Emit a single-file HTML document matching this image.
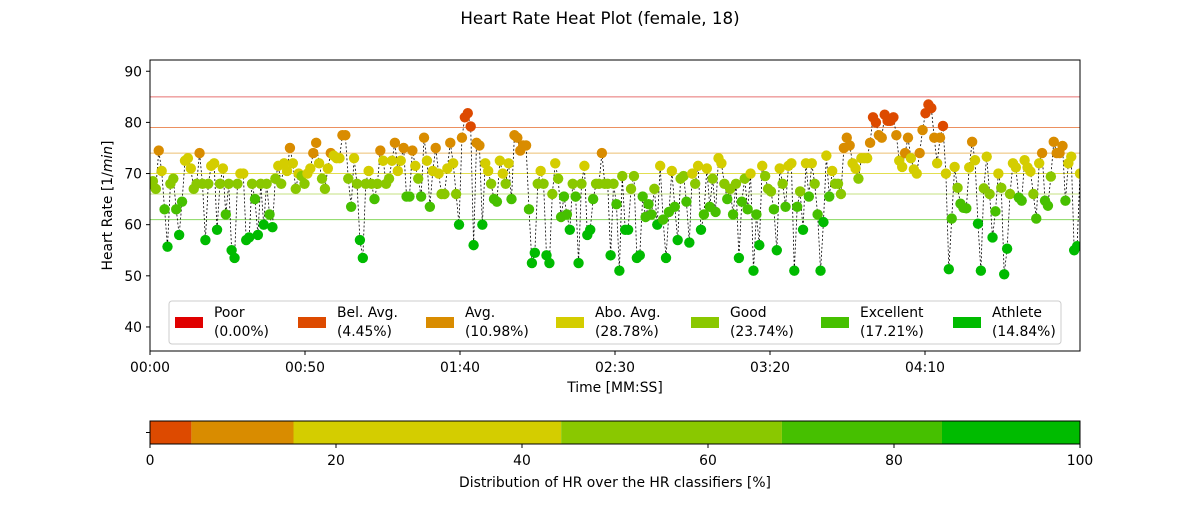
<!DOCTYPE html>
<html><head><meta charset="utf-8"><style>
body{margin:0;background:#fff;}
svg text{font-family:"DejaVu Sans","Liberation Sans",sans-serif;fill:#000;}
</style></head><body>
<svg id="chart" width="1200" height="500" xmlns="http://www.w3.org/2000/svg">
<text x="600" y="24" font-size="16.7" text-anchor="middle">Heart Rate Heat Plot (female, 18)</text>
<g id="plot"></g>
</svg>
<script>
const hrValues=[68,68.5,67,74.5,70.5,63,55.7,68,69,63,58,64.5,72.5,73,71,67,68,74,68,57,68,71.5,72,59,68,71,62,68,55,53.5,68,70,70,57,57.5,68,65,58,68,60,68,62,59.5,69,71.5,68,72,70.5,75,72,67,70,69.5,68,70,71,74,76,72,69,67,71,74,73.5,73,73,77.5,77.5,69,63.5,73,68,57,53.5,68,70.5,68,65,68,74.5,72.5,68,69,72.5,76,70.5,72.5,75,65.5,65.5,74.5,71.5,69,65.5,77,72.5,63.5,70.5,75,70,66,66,71,76,72,66,60,77,81,81.8,79.2,56,76,75.5,60,72,70.5,68,65,64.5,72.5,70,68,72,65,77.5,77,74.5,75.5,75.5,63,52.5,54.5,68,70.5,68,54,52.5,66,72,69,61.5,65.5,62,59,68,65.5,52.5,68,71.5,58,59,65,68,68,74,68,68,54,68,64,51,69.5,59,59,67,69.5,53.5,54,65.5,61.5,64,62,67,60,71.5,61,53.5,62.5,70.5,63.5,57,69,69.5,64.5,56.5,70,68,71.5,59,62,71,63.5,69,62.5,73,72,68,65,67,62,68,53.5,64.5,69,63,70,51,62,56,71.5,69.5,67,66.5,63,55,71,68,63.5,71.5,72,51,63.5,66.5,59,72,65.5,72,68,62,51,60.5,73.5,65.5,70.5,68,
68,66,75,77,75.5,72,71,69,73,73,73,76,81,80,77.5,77,81.5,80.3,80.3,81,77.5,72.5,71.3,74,77,73,70.8,70,74,78.5,81.8,83.5,82.8,77,72,77,79.3,70,51.3,61.2,71.3,67.2,64.1,63.3,63.2,71.2,76.2,72.6,60.2,51,67.1,73.3,66,57.5,62.6,70,67.2,50.3,55.3,66,72,71.2,65.3,64.7,72.6,71.2,70.4,66,61.2,72,74,64.7,63.7,69.4,76.2,74,74,75.4,64.7,72,73.3,55,55.8,70];
const xTickLabels=["00:00","00:50","01:40","02:30","03:20","04:10"];
const xTickSecs=[0,50,100,150,200,250];
const yTicks=[40,50,60,70,80,90];
const thresholds=[85,79,74,70,66,61];
const classNames=["Poor","Bel. Avg.","Avg.","Abo. Avg.","Good","Excellent","Athlete"];
const classPercents=[0.00,4.45,10.98,28.78,23.74,17.21,14.84];
const classColors=["#e00000","#dd4a00","#d98c00","#d4cd00","#8ac800","#46c000","#00bb00"];
const lineColors=["#e87070","#ec9060","#ecbf70","#e2de50","#c4e080","#88d860"];
const barTicks=[0,20,40,60,80,100];

const NS="http://www.w3.org/2000/svg";
const g=document.getElementById('plot');
function el(t,a,p){const e=document.createElementNS(NS,t);for(const k in a)e.setAttribute(k,a[k]);(p||g).appendChild(e);return e;}
const L=150,R=1080,T=60,B=351,FS=13.9;
const xMin=0,xMax=300,yMin=35.3,yMax=92.2;
const xs=s=>L+(s-xMin)/(xMax-xMin)*(R-L);
const ys=v=>B-(v-yMin)/(yMax-yMin)*(B-T);
function cls(v){if(v>=85)return 0;if(v>=79)return 1;if(v>=74)return 2;if(v>=70)return 3;if(v>=66)return 4;if(v>=61)return 5;return 6;}

const clip=el('clipPath',{id:'cp'});el('rect',{x:L,y:T,width:R-L,height:B-T},clip);
thresholds.forEach((t,i)=>{const l=el('line',{x1:L,x2:R,y1:ys(t),y2:ys(t),stroke:lineColors[i],'stroke-width':1});

});
const N=hrValues.length;
const times=hrValues.map((v,i)=>i*300/(N-1));
const pl=el('polyline',{points:hrValues.map((v,i)=>xs(times[i])+','+ys(v)).join(' '),fill:'none',stroke:'#000','stroke-width':0.8,'stroke-dasharray':'2,2','clip-path':'url(#cp)'});


hrValues.forEach((v,i)=>{const c=el('circle',{cx:xs(times[i]),cy:ys(v),r:5.2,fill:classColors[cls(v)],'clip-path':'url(#cp)'});

});
const fr=el('rect',{x:L,y:T,width:R-L,height:B-T,fill:'none',stroke:'#000','stroke-width':1});


yTicks.forEach(v=>{el('line',{x1:L-4,x2:L,y1:ys(v),y2:ys(v),stroke:'#000'});
const t=el('text',{x:L-8,y:ys(v)+5,'font-size':FS,'text-anchor':'end'});t.textContent=v;

});
xTickSecs.forEach((s,i)=>{el('line',{x1:xs(s),x2:xs(s),y1:B,y2:B+4,stroke:'#000'});
const t=el('text',{x:xs(s),y:B+21,'font-size':FS,'text-anchor':'middle'});t.textContent=xTickLabels[i];

});
const xl=el('text',{x:(L+R)/2,y:392,'font-size':FS,'text-anchor':'middle'});xl.textContent='Time [MM:SS]';


const yl=el('text',{x:0,y:0,'font-size':FS,'text-anchor':'middle',transform:'translate(112,'+((T+B)/2)+') rotate(-90)'});
yl.innerHTML='Heart Rate [1/<tspan font-style="italic">min</tspan>]';



// legend
const lg=el('g',{});


el('rect',{x:169,y:301,width:892,height:43,fill:'#fff','fill-opacity':0.8,stroke:'#ccc',rx:3},lg);
const legX=[175,298,426,556,691,821,953];
classNames.forEach((n,i)=>{const e=el('g',{},lg);


el('rect',{x:legX[i],y:317,width:28,height:11,fill:classColors[i]},e);
const t1=el('text',{x:legX[i]+39,y:317,'font-size':FS},e);t1.textContent=n;
const t2=el('text',{x:legX[i]+39,y:336,'font-size':FS},e);t2.textContent='('+classPercents[i].toFixed(2)+'%)';});

// distribution bar
const BT=421,BB=444;
const bx=p=>L+p/100*(R-L);
let cum=0;
classPercents.forEach((p,i)=>{const r=el('rect',{x:bx(cum),y:BT,width:bx(cum+p)-bx(cum),height:BB-BT,fill:classColors[i]});

cum+=p;});
el('rect',{x:L,y:BT,width:R-L,height:BB-BT,fill:'none',stroke:'#000'});
el('line',{x1:L-4,x2:L,y1:(BT+BB)/2,y2:(BT+BB)/2,stroke:'#000'});
barTicks.forEach(v=>{el('line',{x1:bx(v),x2:bx(v),y1:BB,y2:BB+4,stroke:'#000'});
const t=el('text',{x:bx(v),y:BB+21,'font-size':FS,'text-anchor':'middle'});t.textContent=v;

});
const bl=el('text',{x:(L+R)/2,y:487,'font-size':FS,'text-anchor':'middle'});bl.textContent='Distribution of HR over the HR classifiers [%]';


</script>
</body></html>
